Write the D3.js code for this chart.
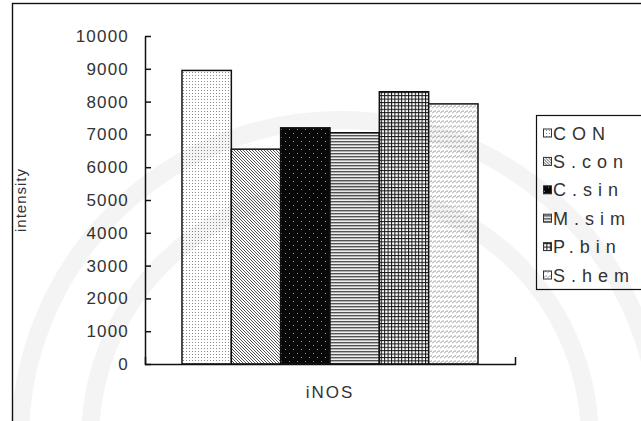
<!DOCTYPE html>
<html>
<head>
<meta charset="utf-8">
<script src="https://cdn.jsdelivr.net/npm/d3@7"></script>
<style>
  html, body { margin: 0; padding: 0; background: #fff; }
  svg { display: block; font-family: "Liberation Sans", Arial, sans-serif; }
</style>
</head>
<body>
<div id="chart"></div>
<script>
const categories = ["CON", "S.con", "C.sin", "M.sim", "P.bin", "S.hem"];
const values     = [8950, 6550, 7200, 7050, 8300, 7930];
const yTicks     = [0, 1000, 2000, 3000, 4000, 5000, 6000, 7000, 8000, 9000, 10000];
const groups     = ["iNOS"];
const yTitle     = "intensity";

const width = 641, height = 421;

const svg = d3.select("#chart")
  .append("svg")
  .attr("width", width)
  .attr("height", height);

const defs = svg.append("defs");

// fill patterns, one per series
function pat(id, w, h) {
  return defs.append("pattern")
    .attr("id", id)
    .attr("patternUnits", "userSpaceOnUse")
    .attr("width", w)
    .attr("height", h);
}

let p = pat("p0", 3, 3);
p.append("rect").attr("width", 3).attr("height", 3).attr("fill", "#fff");
p.append("rect").attr("width", 1).attr("height", 1).attr("fill", "#8a8a8a");

p = pat("p1", 3, 3);
p.append("rect").attr("width", 3).attr("height", 3).attr("fill", "#fff");
p.append("path").attr("d", "M0,0L3,3M-1,2L1,4M2,-1L4,1")
  .attr("stroke", "#555").attr("stroke-width", 1);

p = pat("p2", 8, 8);
p.append("rect").attr("width", 8).attr("height", 8).attr("fill", "#080808");
p.append("rect").attr("x", 1).attr("y", 1).attr("width", 1).attr("height", 1).attr("fill", "#999");
p.append("rect").attr("x", 5).attr("y", 5).attr("width", 1).attr("height", 1).attr("fill", "#999");

p = pat("p3", 3, 3);
p.append("rect").attr("width", 3).attr("height", 3).attr("fill", "#eee");
p.append("rect").attr("width", 3).attr("height", 1.4).attr("fill", "#555");

p = pat("p4", 3.4, 3.4);
p.append("rect").attr("width", 3.4).attr("height", 3.4).attr("fill", "#fff");
p.append("rect").attr("width", 3.4).attr("height", 1).attr("fill", "#111");
p.append("rect").attr("width", 1).attr("height", 3.4).attr("fill", "#111");

p = pat("p5", 4, 5);
p.append("rect").attr("width", 4).attr("height", 5).attr("fill", "#fff");
p.append("path").attr("d", "M0,3.5L2.5,1L4,1")
  .attr("fill", "none").attr("stroke", "#999").attr("stroke-width", 1);

const fills = categories.map((c, i) => `url(#p${i})`);

// outer frame
svg.append("rect")
  .attr("x", 12.5).attr("y", 3.5)
  .attr("width", 650).attr("height", 440)
  .attr("fill", "none")
  .attr("stroke", "#111")
  .attr("stroke-width", 1.4);

// scales
const y = d3.scaleLinear().domain([0, 10000]).range([364, 36]);
const xGroup = d3.scaleBand().domain(groups).range([145, 515]);
const x = d3.scaleBand()
  .domain(categories)
  .range([xGroup("iNOS") + 37, xGroup("iNOS") + xGroup.bandwidth() - 37]);

// bars
svg.append("g")
  .selectAll("rect")
  .data(categories)
  .join("rect")
  .attr("x", d => x(d))
  .attr("y", (d, i) => y(values[i]))
  .attr("width", x.bandwidth())
  .attr("height", (d, i) => y(0) - y(values[i]))
  .attr("fill", (d, i) => fills[i])
  .attr("stroke", "#111")
  .attr("stroke-width", 1.5);

// y axis
const yAxis = svg.append("g")
  .attr("transform", "translate(145,0)")
  .call(d3.axisLeft(y)
    .tickValues(yTicks)
    .tickFormat(d3.format("d"))
    .tickSizeInner(-6)
    .tickSizeOuter(0)
    .tickPadding(16));
yAxis.select(".domain").attr("stroke", "#111").attr("stroke-width", 1.5);
yAxis.selectAll(".tick line").attr("stroke", "#111").attr("stroke-width", 1.5);
yAxis.selectAll(".tick text")
  .attr("fill", "#333")
  .attr("font-size", 17)
  .attr("letter-spacing", "1.2px")
  .attr("font-family", "Liberation Sans, Arial, sans-serif");

// x axis
const xAxis = svg.append("g")
  .attr("transform", "translate(0,364)")
  .call(d3.axisBottom(xGroup).tickValues([]).tickSizeOuter(-7));
xAxis.select(".domain").attr("stroke", "#111").attr("stroke-width", 1.5);

svg.append("text")
  .attr("x", xGroup("iNOS") + xGroup.bandwidth() / 2)
  .attr("y", 398)
  .attr("text-anchor", "middle")
  .attr("fill", "#333")
  .attr("font-size", 17)
  .attr("letter-spacing", "2px")
  .text(groups[0]);

svg.append("text")
  .attr("transform", "translate(26,200) rotate(-90)")
  .attr("text-anchor", "middle")
  .attr("fill", "#333")
  .attr("font-size", 15)
  .attr("letter-spacing", "1px")
  .text(yTitle);

// legend
const legend = svg.append("g");
legend.append("rect")
  .attr("x", 536.5).attr("y", 115.5)
  .attr("width", 120).attr("height", 174)
  .attr("fill", "#fff")
  .attr("stroke", "#111")
  .attr("stroke-width", 1.2);

const item = legend.selectAll("g.item")
  .data(categories)
  .join("g")
  .attr("class", "item")
  .attr("transform", (d, i) => `translate(543,${133 + i * 28.4})`);

item.append("rect")
  .attr("x", 0.5).attr("y", -4)
  .attr("width", 8).attr("height", 8)
  .attr("fill", (d, i) => fills[i])
  .attr("stroke", "#333")
  .attr("stroke-width", 1);

item.append("text")
  .attr("x", 10)
  .attr("y", 6.5)
  .attr("fill", "#333")
  .attr("font-size", 18)
  .attr("letter-spacing", "6px")
  .text(d => d);

// faint seal watermark rings
const wm = svg.append("g").attr("opacity", 0.04).attr("pointer-events", "none");
wm.selectAll("circle")
  .data([250, 320])
  .join("circle")
  .attr("cx", 340).attr("cy", 440).attr("r", d => d)
  .attr("fill", "none").attr("stroke", "#000").attr("stroke-width", 18);
</script>
</body>
</html>
